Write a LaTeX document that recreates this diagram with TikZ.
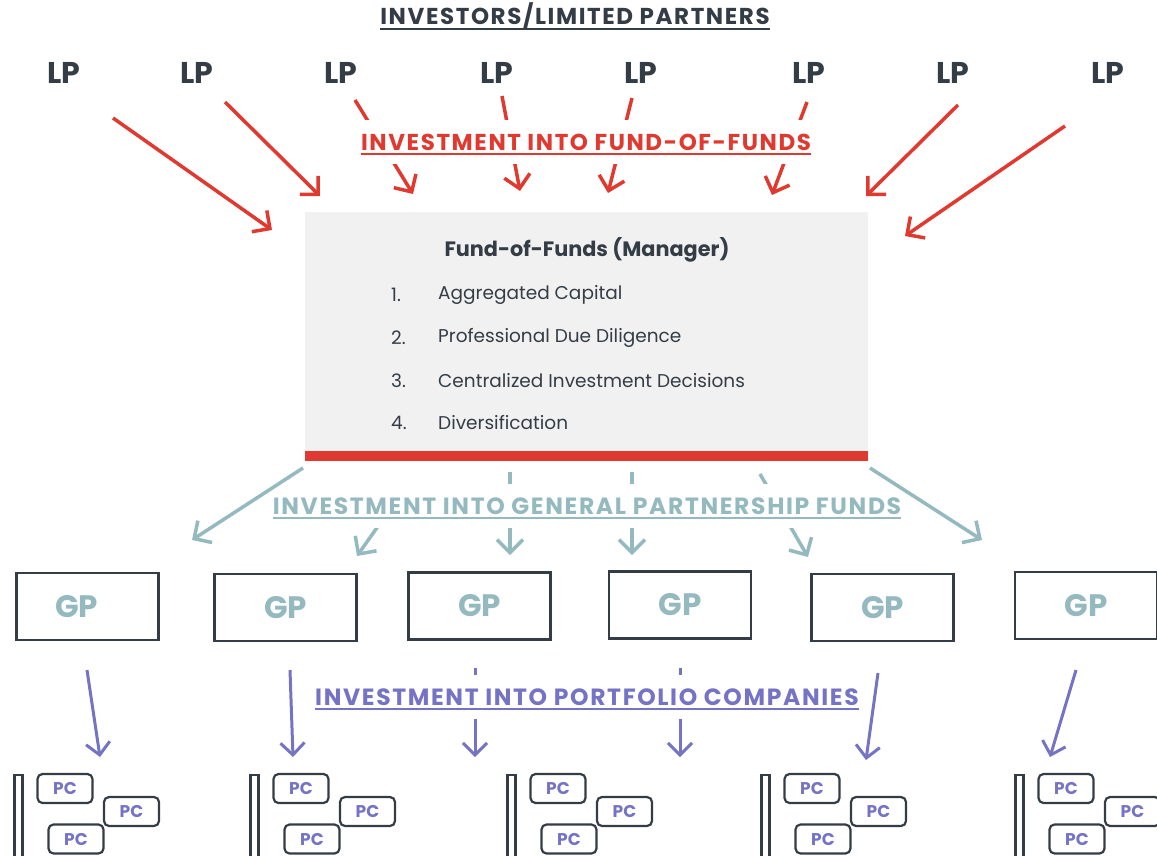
\documentclass[tikz,border=0pt]{standalone}
\usepackage{fontspec}
\setmainfont{Poppins}
\newfontfamily\headfont{Poppins}[LetterSpace=7]
\usepackage{xcolor}
\usetikzlibrary{arrows.meta, positioning}

\definecolor{slate}{HTML}{343D46}
\definecolor{fofred}{HTML}{E0392F}
\definecolor{gpteal}{HTML}{94B9BE}
\definecolor{pcpurple}{HTML}{7573C4}
\definecolor{boxgray}{HTML}{F1F1F1}

\tikzset{
    lpnode/.style={font=\bfseries\fontsize{30}{30}\selectfont, text=slate, inner sep=0pt},
    headlbl/.style={font=\headfont\bfseries\fontsize{23}{23}\selectfont, inner xsep=0pt, inner ysep=14pt, fill=white},
    widelbl/.style={headlbl, font=\headfont\bfseries\fontsize{23.5}{23.5}\selectfont},
    listnum/.style={font=\fontsize{18.5}{18.5}\selectfont, text=slate, anchor=west, inner sep=0pt},
    redarrow/.style={draw=fofred, line width=3.5pt, -{Straight Barb[length=13pt,width=26pt]}},
    gparrow/.style={draw=gpteal, line width=3.5pt, -{Straight Barb[length=13pt,width=26pt]}},
    pcarrow/.style={draw=pcpurple, line width=3pt, -{Straight Barb[length=12pt,width=24pt]}},
    gpbox/.style={draw=slate, line width=2.6pt, fill=white, minimum width=142pt, minimum height=67pt, inner sep=0pt, text=gpteal, font=\bfseries\fontsize{31}{31}\selectfont},
    pcbar/.style={draw=slate, line width=2.4pt, fill=white, minimum width=8pt, minimum height=95pt, inner sep=0pt, anchor=north},
    pcbox/.style={draw=slate, line width=2.2pt, fill=white, rounded corners=5pt, minimum width=55pt, minimum height=29pt, inner sep=0pt, text=pcpurple, font=\bfseries\fontsize{17}{17}\selectfont}
}

\begin{document}
\begin{tikzpicture}[x=1pt, y=-1pt]
\useasboundingbox (0,0) rectangle (1157,855);

\node[headlbl, text=slate, inner ysep=0pt] (title) at (575,16) {INVESTORS/LIMITED PARTNERS};
\draw[slate, line width=2pt] ([yshift=-4pt]title.base west) -- ([yshift=-4pt]title.base east);

\node[lpnode] (lp1) at (64,73) {LP};
\node[lpnode] (lp2) at (197,73) {LP};
\node[lpnode] (lp3) at (341,73) {LP};
\node[lpnode] (lp4) at (497,73) {LP};
\node[lpnode] (lp5) at (641,73) {LP};
\node[lpnode] (lp6) at (809,73) {LP};
\node[lpnode] (lp7) at (953,73) {LP};
\node[lpnode] (lp8) at (1108,73) {LP};

\coordinate (s1) at (113,118);  \coordinate (t1) at (272,230);
\coordinate (s2) at (225,102);  \coordinate (t2) at (320,196);
\coordinate (s3) at (355,100);  \coordinate (t3) at (413,194);
\coordinate (s4) at (502,96);   \coordinate (t4) at (520,191);
\coordinate (s5) at (632,98);   \coordinate (t5) at (608,193);
\coordinate (s6) at (807,102);  \coordinate (t6) at (772,195);
\coordinate (s7) at (958,105);  \coordinate (t7) at (866,196);
\coordinate (s8) at (1065,126); \coordinate (t8) at (905,236);

\draw[redarrow] (s3) -- (t3);
\draw[redarrow] (s4) -- (t4);
\draw[redarrow] (s5) -- (t5);
\draw[redarrow] (s6) -- (t6);

\node[headlbl, text=fofred] (fofhead) at (586,142) {INVESTMENT INTO FUND-OF-FUNDS};
\draw[fofred, line width=2pt] ([yshift=-4pt]fofhead.base west) -- ([yshift=-4pt]fofhead.base east);

\draw[redarrow] (s1) -- (t1);
\draw[redarrow] (s2) -- (t2);
\draw[redarrow] (s7) -- (t7);
\draw[redarrow] (s8) -- (t8);

\node[fill=boxgray, minimum width=563pt, minimum height=249pt, inner sep=0pt] (fof) at (586.5,336.5) {};
\fill[fofred] ([yshift=10pt]fof.south west) rectangle (fof.south east);

\node[font=\bfseries\fontsize{20.8}{20.8}\selectfont, text=slate, inner sep=0pt] (fofname) at (587,250) {Fund-of-Funds (Manager)};
\node[listnum] (n1) at (391,295) {1.};
\node[listnum] (n2) at (391,338) {2.};
\node[listnum] (n3) at (391,381) {3.};
\node[listnum] (n4) at (391,423) {4.};
\node[listnum] (i1) at (438,295) {Aggregated Capital};
\node[listnum] (i2) at (438,338) {Professional Due Diligence};
\node[listnum] (i3) at (438,381) {Centralized Investment Decisions};
\node[listnum] (i4) at (438,423) {Diversification};

\coordinate (u1) at (303,468); \coordinate (v1) at (192,540);
\coordinate (u2) at (400,495); \coordinate (v2) at (357,556);
\coordinate (u3) at (510,472); \coordinate (v3) at (510,555);
\coordinate (u4) at (632,472); \coordinate (v4) at (632,555);
\coordinate (u5) at (760,474); \coordinate (v5) at (808,557);
\coordinate (u6) at (870,468); \coordinate (v6) at (982,540);

\draw[gparrow] (u2) -- (v2);
\draw[gparrow] (u3) -- (v3);
\draw[gparrow] (u4) -- (v4);
\draw[gparrow] (u5) -- (v5);

\node[widelbl, text=gpteal] (gphead) at (587,506) {INVESTMENT INTO GENERAL PARTNERSHIP FUNDS};
\draw[gpteal, line width=2pt] ([yshift=-4pt]gphead.base west) -- ([yshift=-4pt]gphead.base east);

\draw[gparrow] (u1) -- (v1);
\draw[gparrow] (u6) -- (v6);

\node[gpbox] (gp1) at (87.5,606.5) {GP\hspace*{22pt}};
\node[gpbox] (gp2) at (285.5,607.5) {GP};
\node[gpbox] (gp3) at (479.5,606) {GP};
\node[gpbox] (gp4) at (680,605) {GP};
\node[gpbox] (gp5) at (882.5,607.5) {GP};
\node[gpbox] (gp6) at (1086,605.5) {GP};

\coordinate (p1) at (87,670);  \coordinate (q1) at (100,757);
\coordinate (p2) at (290,670); \coordinate (q2) at (293,757);
\coordinate (p3) at (475,668); \coordinate (q3) at (475,757);
\coordinate (p4) at (680,668); \coordinate (q4) at (680,757);
\coordinate (p5) at (878,673); \coordinate (q5) at (866,760);
\coordinate (p6) at (1076,670); \coordinate (q6) at (1050,757);

\draw[pcarrow] (p3) -- (q3);
\draw[pcarrow] (p4) -- (q4);

\node[widelbl, text=pcpurple] (pchead) at (587,697) {INVESTMENT INTO PORTFOLIO COMPANIES};
\draw[pcpurple, line width=2pt] ([yshift=-4pt]pchead.base west) -- ([yshift=-4pt]pchead.base east);

\draw[pcarrow] (p1) -- (q1);
\draw[pcarrow] (p2) -- (q2);
\draw[pcarrow] (p5) -- (q5);
\draw[pcarrow] (p6) -- (q6);

\node[pcbar] (bar1) at (18.5,774) {};
\node[pcbox] (pc1a) at (65,788.5) {PC};
\node[pcbox] (pc1b) at (131.5,811.5) {PC};
\node[pcbox] (pc1c) at (76,839) {PC};

\node[pcbar] (bar2) at (254.5,774) {};
\node[pcbox] (pc2a) at (301,788.5) {PC};
\node[pcbox] (pc2b) at (367.5,811.5) {PC};
\node[pcbox] (pc2c) at (312,839) {PC};

\node[pcbar] (bar3) at (511.5,774) {};
\node[pcbox] (pc3a) at (558,788.5) {PC};
\node[pcbox] (pc3b) at (624.5,811.5) {PC};
\node[pcbox] (pc3c) at (569,839) {PC};

\node[pcbar] (bar4) at (765.5,774) {};
\node[pcbox] (pc4a) at (812,788.5) {PC};
\node[pcbox] (pc4b) at (878.5,811.5) {PC};
\node[pcbox] (pc4c) at (823,839) {PC};

\node[pcbar] (bar5) at (1019.5,774) {};
\node[pcbox] (pc5a) at (1066,788.5) {PC};
\node[pcbox] (pc5b) at (1132.5,811.5) {PC};
\node[pcbox] (pc5c) at (1077,839) {PC};
\end{tikzpicture}
\end{document}
